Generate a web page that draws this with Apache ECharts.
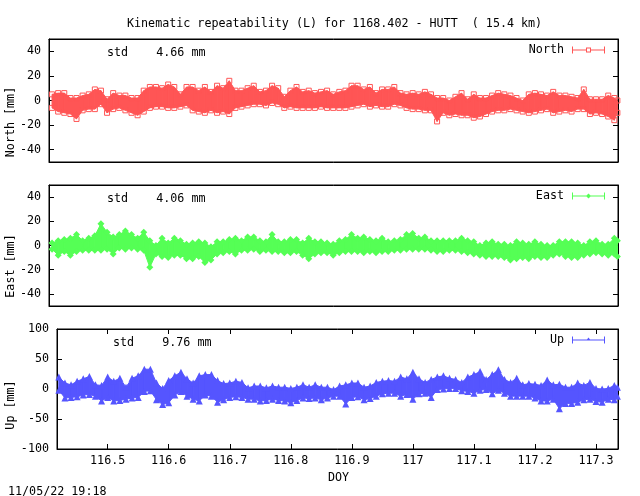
<!DOCTYPE html>
<html lang="en">

<head>
    <meta charset="UTF-8" />
    <title>Kinematic repeatability</title>
    <script src="https://cdn.jsdelivr.net/npm/echarts@6/dist/echarts.min.js"></script>
    <style>
        html, body { margin: 0; padding: 0; background: #fff; }
        #main { width: 640px; height: 496px; }
    </style>
</head>

<body>
    <div id="main"></div>

    <script type="text/javascript">
        // sample positions (DOY), one every 0.01 day, last one at the right frame
        var xDoy = [
            116.41, 116.42, 116.43, 116.44, 116.45, 116.46, 116.47, 116.48, 116.49,
            116.50, 116.51, 116.52, 116.53, 116.54, 116.55, 116.56, 116.57, 116.58, 116.59,
            116.60, 116.61, 116.62, 116.63, 116.64, 116.65, 116.66, 116.67, 116.68, 116.69,
            116.70, 116.71, 116.72, 116.73, 116.74, 116.75, 116.76, 116.77, 116.78, 116.79,
            116.80, 116.81, 116.82, 116.83, 116.84, 116.85, 116.86, 116.87, 116.88, 116.89,
            116.90, 116.91, 116.92, 116.93, 116.94, 116.95, 116.96, 116.97, 116.98, 116.99,
            117.00, 117.01, 117.02, 117.03, 117.04, 117.05, 117.06, 117.07, 117.08, 117.09,
            117.10, 117.11, 117.12, 117.13, 117.14, 117.15, 117.16, 117.17, 117.18, 117.19,
            117.20, 117.21, 117.22, 117.23, 117.24, 117.25, 117.26, 117.27, 117.28, 117.29,
            117.30, 117.31, 117.32, 117.33, 117.335
        ];

        // upper and lower edge of each band (mm)
        var northHi = [
            5, 6, 6, 2, 2, 4, 5, 9, 8,
            1, 6, 4, 4, 2, 2, 8, 11, 11, 10,
            13, 11, 5, 11, 11, 8, 11, 7, 12, 10,
            16, 8, 8, 10, 12, 7, 8, 12, 10, 3,
            8, 11, 7, 8, 6, 7, 8, 5, 7, 8,
            12, 12, 9, 11, 6, 9, 9, 11, 6, 5,
            6, 5, 7, 5, 2, 2, 0, 3, 6, 1,
            5, 2, 2, 4, 6, 5, 4, 2, 0, 5,
            6, 5, 4, 7, 4, 4, 3, 2, 9, 1,
            1, 1, 4, 2, 0
        ];
        var northLo = [
            -6, -9, -10, -11, -15, -8, -7, -7, -3,
            -10, -7, -6, -8, -10, -12, -9, -6, -5, -5,
            -6, -6, -5, -4, -8, -9, -10, -8, -10, -9,
            -11, -6, -5, -4, -3, -3, -4, -2, -3, -6,
            -5, -6, -6, -6, -6, -5, -6, -6, -6, -6,
            -5, -4, -3, -5, -4, -5, -5, -3, -4, -6,
            -7, -7, -8, -8, -17, -10, -12, -11, -12, -12,
            -14, -13, -11, -9, -8, -8, -7, -8, -9, -10,
            -9, -8, -7, -10, -9, -8, -9, -7, -7, -11,
            -10, -11, -13, -16, -10
        ];
        var eastHi = [
            2, 4, 5, 6, 9, 4, 6, 8, 18,
            11, 7, 9, 12, 9, 6, 11, 4, 0, 6,
            2, 6, 4, 1, 2, 3, 2, -1, 3, 3,
            5, 6, 4, 7, 7, 4, 3, 9, 3, 3,
            5, 5, 2, 6, 3, 3, 2, 1, 4, 5,
            9, 6, 7, 5, 4, 6, 3, 4, 5, 9,
            10, 6, 7, 4, 4, 4, 4, 4, 6, 4,
            3, 0, 2, 3, 1, 1, 0, 3, 2, 1,
            3, 1, 0, 0, 3, 3, 3, 2, 0, 3,
            4, 1, 1, 6, 4
        ];
        var eastLo = [
            -3, -8, -5, -8, -5, -4, -4, -4, -4,
            -3, -7, -2, -3, -2, -3, -4, -18, -7, -9,
            -10, -8, -8, -11, -11, -9, -14, -12, -7, -6,
            -5, -7, -4, -4, -3, -5, -4, -5, -5, -6,
            -6, -5, -8, -11, -7, -6, -6, -8, -6, -5,
            -5, -5, -6, -5, -6, -5, -5, -4, -4, -3,
            -3, -3, -3, -4, -5, -5, -4, -4, -5, -6,
            -7, -8, -9, -9, -9, -10, -12, -11, -10, -11,
            -9, -10, -10, -8, -7, -9, -10, -10, -8, -7,
            -6, -7, -8, -7, -9
        ];
        var upHi = [
            null, 20, 10, 7, 13, 17, 21, 7, 6,
            20, 13, 18, 3, 18, 22, 33, 33, 10, 1,
            14, 22, 28, 17, 10, 22, 24, 24, 14, 9,
            10, 13, 11, 2, 5, 5, 2, 5, 3, 3,
            1, 3, 7, 3, 7, 3, 3, -1, 5, 7,
            10, 10, 3, 5, 11, 13, 14, 13, 20, 17,
            28, 17, 11, 16, 20, 22, 18, 16, 11, 20,
            24, 29, 16, 24, 32, 16, 11, 18, 7, 9,
            8, 6, 15, 7, 8, 3, 3, 10, 6, 11,
            1, 0, 1, 6, 3
        ];
        var upLo = [
            null, -2, -15, -14, -13, -10, -9, -12, -20,
            -14, -20, -19, -17, -15, -14, -4, -3, -18, -26,
            -23, -10, -4, -12, -17, -20, -10, -12, -22, -18,
            -14, -13, -14, -17, -17, -20, -19, -17, -19, -20,
            -23, -19, -15, -16, -15, -18, -15, -12, -12, -25,
            -14, -13, -18, -16, -12, -8, -7, -7, -12, -9,
            -17, -8, -7, -14, -1, 0, 1, 1, -3, -4,
            -7, -2, -1, -8, -2, -7, -12, -12, -12, -12,
            -15, -20, -20, -17, -33, -24, -24, -22, -18, -17,
            -21, -22, -17, -18, -12
        ];

        // tick labels
        var xTicks = [116.5, 116.6, 116.7, 116.8, 116.9, 117, 117.1, 117.2, 117.3];
        var yTicksSmall = [-40, -20, 0, 20, 40];
        var yTicksLarge = [-100, -50, 0, 50, 100];

        var monoFont = '"DejaVu Sans Mono", "Liberation Mono", monospace';
        var fontSize = 11.7;

        // legend sample: line with end caps and the marker in the middle
        var iconSquare = 'path://M0 0H1V3H14V1H19V3H32V0H33V7H32V4H19V6H14V4H1V7H0ZM15 2V5H18V2Z';
        var iconDiamond = 'path://M0 0H1V3H14.5L16.5 1L18.5 3H32V0H33V7H32V4H18.5L16.5 6L14.5 4H1V7H0Z';
        var iconTriangle = 'path://M0 0H1V3H15L16.5 1L18 3H32V0H33V7H32V4H1V7H0Z';

        var panels = [
            { name: 'North', label: 'North [mm]', hi: northHi, lo: northLo, color: '#ff5555', symbol: 'rect', hollow: true,
              icon: iconSquare, left: 49, top: 39, height: 123, xMin: 116.405, ymax: 50, yTicks: yTicksSmall, showX: false,
              legendTop: 44, labelY: 122 },
            { name: 'East', label: 'East [mm]', hi: eastHi, lo: eastLo, color: '#55ff55', symbol: 'diamond', hollow: false,
              icon: iconDiamond, left: 49, top: 185, height: 121, xMin: 116.405, ymax: 50, yTicks: yTicksSmall, showX: false,
              legendTop: 190, labelY: 266 },
            { name: 'Up', label: 'Up [mm]', hi: upHi, lo: upLo, color: '#5555ff', symbol: 'triangle', hollow: false,
              icon: iconTriangle, left: 57, top: 329, height: 120, xMin: 116.417, ymax: 100, yTicks: yTicksLarge, showX: true,
              legendTop: 334, labelY: 405 }
        ];

        var grids = [], xAxes = [], yAxes = [], seriesList = [], legends = [], graphics = [];
        var black = { color: '#000', width: 1 };

        panels.forEach(function (p, i) {
            grids.push({ show: true, left: p.left, right: 22, top: p.top, height: p.height, borderColor: '#000', borderWidth: 1, backgroundColor: 'transparent' });

            xAxes.push({
                type: 'value', gridIndex: i, position: 'bottom', min: p.xMin, max: 117.336,
                splitLine: { show: false },
                axisLine: { show: true, onZero: false, lineStyle: black },
                axisTick: { show: p.showX, inside: true, length: 5, lineStyle: black, customValues: xTicks },
                axisLabel: { show: p.showX, color: '#000', fontFamily: monoFont, fontSize: fontSize, margin: 6, customValues: xTicks, showMinLabel: true, showMaxLabel: true }
            });
            xAxes.push({
                type: 'value', gridIndex: i, position: 'top', min: p.xMin, max: 117.336,
                splitLine: { show: false },
                axisLine: { show: true, onZero: false, lineStyle: black },
                axisTick: { show: p.showX, inside: true, length: 5, lineStyle: black, customValues: xTicks },
                axisLabel: { show: false }
            });

            yAxes.push({
                type: 'value', gridIndex: i, position: 'left', min: -p.ymax, max: p.ymax,
                splitLine: { show: false },
                axisLine: { show: true, onZero: false, lineStyle: black },
                axisTick: { show: true, inside: true, length: 5, lineStyle: black, customValues: p.yTicks },
                axisLabel: { color: '#000', fontFamily: monoFont, fontSize: fontSize, margin: 8, padding: [2, 0, 0, 0], customValues: p.yTicks, showMinLabel: true, showMaxLabel: true }
            });
            yAxes.push({
                type: 'value', gridIndex: i, position: 'right', min: -p.ymax, max: p.ymax,
                splitLine: { show: false },
                axisLine: { show: true, onZero: false, lineStyle: black },
                axisTick: { show: true, inside: true, length: 5, lineStyle: black, customValues: p.yTicks },
                axisLabel: { show: false }
            });

            var band = [], edges = [];
            xDoy.forEach(function (x, k) {
                if (p.hi[k] === null) return;
                if (k < xDoy.length - 1) {
                    band.push([x, p.lo[k], p.hi[k], xDoy[k + 1], p.lo[k + 1], p.hi[k + 1]]);
                }
                edges.push([x, p.hi[k]]);
                edges.push([x, p.lo[k]]);
            });

            // solid body of the band, one slice between each pair of samples
            seriesList.push({
                name: p.name,
                type: 'custom',
                xAxisIndex: i * 2,
                yAxisIndex: i * 2,
                clip: false,
                silent: true,
                itemStyle: { color: p.color },
                encode: { x: 0, y: [1, 2] },
                data: band,
                renderItem: function (params, api) {
                    var pts = [
                        api.coord([api.value(0), api.value(2)]),
                        api.coord([api.value(3), api.value(5)]),
                        api.coord([api.value(3), api.value(4)]),
                        api.coord([api.value(0), api.value(1)])
                    ];
                    return {
                        type: 'polygon',
                        shape: { points: pts },
                        style: { fill: p.color, stroke: p.color, lineWidth: 1 }
                    };
                }
            });
            // markers along both edges
            seriesList.push({
                name: p.name,
                type: 'scatter',
                xAxisIndex: i * 2,
                yAxisIndex: i * 2,
                clip: false,
                silent: true,
                symbol: p.symbol,
                symbolSize: p.hollow ? 5 : 7,
                itemStyle: p.hollow
                    ? { color: 'transparent', borderColor: p.color, borderWidth: 1, opacity: 1 }
                    : { color: p.color, opacity: 1 },
                data: edges
            });

            legends.push({
                data: [{ name: p.name, icon: p.icon }],
                right: 35, top: p.legendTop, orient: 'horizontal', align: 'right',
                itemWidth: 33, itemHeight: 7, itemGap: 0, padding: 0, selectedMode: false,
                textStyle: { color: '#000', fontFamily: monoFont, fontSize: fontSize, padding: [0, 3, 0, 0] }
            });

            graphics.push({
                type: 'text', x: 11, y: p.labelY, rotation: Math.PI / 2, originX: 0, originY: 0,
                style: { text: p.label, fill: '#000', font: fontSize + 'px ' + monoFont, textAlign: 'center', textVerticalAlign: 'middle' }
            });
        });

        function freeText(text, x, y) {
            return {
                text: text, left: x, top: y, padding: 0,
                textStyle: { color: '#000', fontFamily: monoFont, fontSize: fontSize, fontWeight: 'normal', lineHeight: 14 }
            };
        }

        var myChart = echarts.init(document.getElementById('main'), null, { renderer: 'canvas' });
        var option = {
            animation: false,
            backgroundColor: '#fff',
            title: [
                freeText('Kinematic repeatability (L) for 1168.402 - HUTT  ( 15.4 km)', 127, 17),
                freeText('std    4.66 mm', 107, 46),
                freeText('std    4.06 mm', 107, 192),
                freeText('std    9.76 mm', 113, 336),
                freeText('DOY', 328, 471),
                freeText('11/05/22 19:18', 8, 485)
            ],
            grid: grids,
            xAxis: xAxes,
            yAxis: yAxes,
            legend: legends,
            graphic: graphics,
            series: seriesList
        };
        myChart.setOption(option);
    </script>
</body>

</html>
